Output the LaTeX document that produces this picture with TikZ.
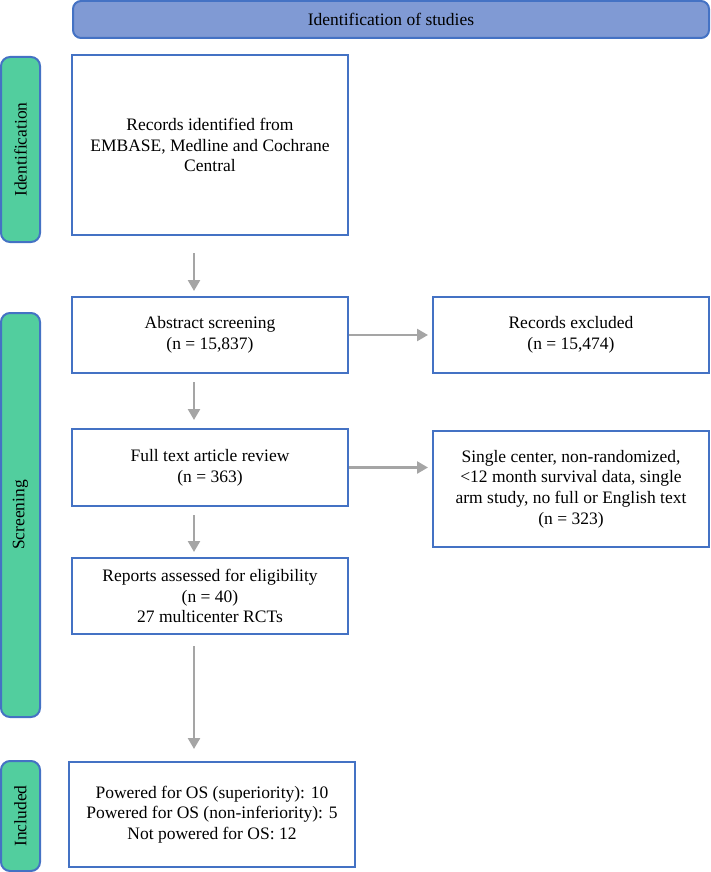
\documentclass[tikz,border=0pt]{standalone}
\usepackage{fontspec}
\setmainfont{Liberation Serif}
\usetikzlibrary{arrows.meta}
\definecolor{boxblue}{RGB}{68,114,196}
\definecolor{headfill}{RGB}{128,154,212}
\definecolor{sidegreen}{RGB}{82,206,158}
\definecolor{arrgrey}{RGB}{165,165,165}
\begin{document}
\begin{tikzpicture}[x=1pt,y=-1pt,
  every node/.style={font=\fontsize{17.5}{20.7}\selectfont, align=center, inner sep=0pt},
  stepbox/.style={draw=boxblue, line width=2pt, fill=white, minimum width=276pt},
  headbox/.style={draw=boxblue, line width=2pt, fill=headfill, rounded corners=8pt},
  sidebox/.style={draw=boxblue, line width=2pt, fill=sidegreen, rounded corners=9pt, minimum width=39pt},
  arr/.style={draw=arrgrey, line width=2.5pt, -{Triangle[length=11pt,width=12pt]}}
]
\useasboundingbox (0,0) rectangle (710,872);

\node[headbox, minimum width=636pt, minimum height=37pt] (head) at (391,19.5) {Identification of studies};

\node[sidebox, minimum height=185pt] (sid) at (20.5,149.5) {};
\node[rotate=90] (sidt) at (sid.center) {Identification};
\node[sidebox, minimum height=404pt] (sscr) at (20.5,515) {};
\node[rotate=90] (sscrt) at (sscr.center) {Screening};
\node[sidebox, minimum height=110pt] (sinc) at (20.5,816) {};
\node[rotate=90] (sinct) at (sinc.center) {Included};

\node[stepbox, minimum height=180pt] (b1) at (210,145) {Records identified from\\EMBASE, Medline and Cochrane\\Central};
\node[stepbox, minimum height=76pt] (b2) at (210,335) {Abstract screening\\(n = 15,837)};
\node[stepbox, minimum height=76pt] (e1) at (571,335) {Records excluded\\(n = 15,474)};
\node[stepbox, minimum height=77pt] (b3) at (210,467.5) {Full text article review\\(n = 363)};
\node[stepbox, minimum height=116pt] (e2) at (571,489) {Single center, non-randomized,\\<12 month survival data, single\\arm study, no full or English text\\(n = 323)};
\node[stepbox, minimum height=76pt] (b4) at (210,596) {Reports assessed for eligibility\\(n = 40)\\27 multicenter RCTs};
\node[stepbox, minimum width=286pt, minimum height=105pt] (b5) at (212,814.5) {Powered for OS (superiority): 10\\Powered for OS (non-inferiority): 5\\Not powered for OS: 12};

\draw[arr, shorten <=17pt, shorten >=5pt] ([xshift=-16pt]b1.south) -- ([xshift=-16pt]b2.north);
\draw[arr, shorten <=8pt, shorten >=8pt] ([xshift=-16pt]b2.south) -- ([xshift=-16pt]b3.north);
\draw[arr, shorten <=8pt, shorten >=5pt] ([xshift=-16pt]b3.south) -- ([xshift=-16pt]b4.north);
\draw[arr, shorten <=11pt, shorten >=12pt] ([xshift=-16pt]b4.south) -- ([xshift=-18pt]b5.north);
\draw[arr, shorten >=4pt] (b2.east) -- (e1.west);
\draw[arr, shorten >=4pt] (b3.east) -- (b3.east -| e2.west);
\end{tikzpicture}
\end{document}
